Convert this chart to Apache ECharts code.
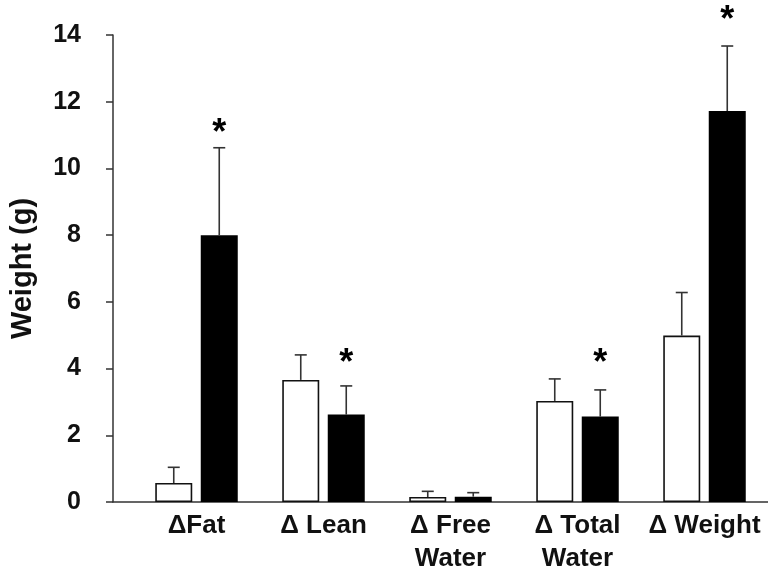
<!DOCTYPE html>
<html>
<head>
<meta charset="utf-8">
<script src="https://cdn.jsdelivr.net/npm/echarts@6/dist/echarts.min.js"></script>
<style>
html,body{margin:0;padding:0;background:#fff;}
#chart{width:768px;height:576px;}
</style>
</head>
<body>
<div id="chart"></div>
<script>
const categories = ['\u0394Fat', '\u0394 Lean', '\u0394 Free\nWater', '\u0394 Total\nWater', '\u0394 Weight'];
const whiteValues = [0.57, 3.66, 0.15, 3.03, 4.99];
const whiteErrors = [0.47, 0.75, 0.17, 0.66, 1.29];
const blackValues = [8.0, 2.62, 0.16, 2.56, 11.72];
const blackErrors = [2.62, 0.86, 0.12, 0.80, 1.95];
const asteriskY = [11.2, 4.32, null, 4.32, 14.59];
const yTicks = [0, 2, 4, 6, 8, 10, 12, 14];

const FONT = '"Liberation Sans", Arial, sans-serif';
const BAR_W = 37;
const GAP_PX = 8.5;
const OFFSET = (BAR_W + GAP_PX) / 2;

function errorRenderer(offset) {
  return function (params, api) {
    const i = api.value(0), v = api.value(1), e = api.value(2);
    const base = api.coord([i, v]);
    const top = api.coord([i, v + e]);
    const x = base[0] + offset;
    const st = { stroke: '#333', lineWidth: 1.6 };
    return {
      type: 'group',
      children: [
        { type: 'line', shape: { x1: x, y1: base[1], x2: x, y2: top[1] }, style: st },
        { type: 'line', shape: { x1: x - 6, y1: top[1], x2: x + 6, y2: top[1] }, style: st }
      ]
    };
  };
}

const chart = echarts.init(document.getElementById('chart'));
chart.setOption({
  animation: false,
  backgroundColor: '#fff',
  grid: [
    { left: 133, right: -2, top: 35, bottom: 74 },
    { left: 113, right: 0, top: 35, bottom: 74 }
  ],
  xAxis: [
    {
      type: 'category', gridIndex: 0, data: categories,
      axisLine: { show: false }, axisTick: { show: false },
      axisLabel: {
        interval: 0, margin: 7, color: '#111',
        fontFamily: FONT, fontWeight: 'bold', fontSize: 26, lineHeight: 33
      }
    },
    {
      type: 'value', gridIndex: 1, min: 0, max: 1,
      axisLine: { show: true, lineStyle: { color: '#333', width: 1.5 } },
      axisTick: { show: false }, axisLabel: { show: false }, splitLine: { show: false }
    }
  ],
  yAxis: [
    { type: 'value', gridIndex: 0, min: 0, max: 14, show: false },
    {
      type: 'value', gridIndex: 1, min: yTicks[0], max: yTicks[yTicks.length - 1], interval: 2,
      name: 'Weight (g)', nameLocation: 'middle', nameGap: 76, nameRotate: 90,
      nameTextStyle: { fontFamily: FONT, fontWeight: 'bold', fontSize: 29, color: '#111' },
      axisLine: { show: true, lineStyle: { color: '#333', width: 1.5 } },
      axisTick: { show: true, inside: false, length: 7, lineStyle: { color: '#333', width: 1.5 } },
      axisLabel: { margin: 32, fontFamily: FONT, fontWeight: 'bold', fontSize: 25, color: '#111' },
      splitLine: { show: false }
    }
  ],
  series: [
    {
      type: 'bar', xAxisIndex: 0, yAxisIndex: 0, data: whiteValues,
      barWidth: BAR_W, barGap: (GAP_PX / BAR_W * 100) + '%',
      itemStyle: { color: '#fff', borderColor: '#111', borderWidth: 1.6 }
    },
    {
      type: 'bar', xAxisIndex: 0, yAxisIndex: 0, data: blackValues,
      barWidth: BAR_W,
      itemStyle: { color: '#000', borderColor: '#000', borderWidth: 1.6 }
    },
    {
      type: 'custom', xAxisIndex: 0, yAxisIndex: 0, z: 5,
      renderItem: errorRenderer(-OFFSET),
      data: whiteValues.map((v, i) => [i, v, whiteErrors[i]])
    },
    {
      type: 'custom', xAxisIndex: 0, yAxisIndex: 0, z: 5,
      renderItem: errorRenderer(OFFSET),
      data: blackValues.map((v, i) => [i, v, blackErrors[i]])
    },
    {
      type: 'custom', xAxisIndex: 0, yAxisIndex: 0, z: 6,
      renderItem: function (params, api) {
        const i = api.value(0), y = api.value(1);
        const p = api.coord([i, y]);
        return {
          type: 'text', x: p[0] + OFFSET, y: p[1] + 6,
          style: { text: '*', font: 'bold 36px ' + FONT, textAlign: 'center', textVerticalAlign: 'middle', fill: '#000' }
        };
      },
      data: asteriskY.map((v, i) => [i, v]).filter(d => d[1] !== null)
    }
  ]
});
</script>
</body>
</html>
